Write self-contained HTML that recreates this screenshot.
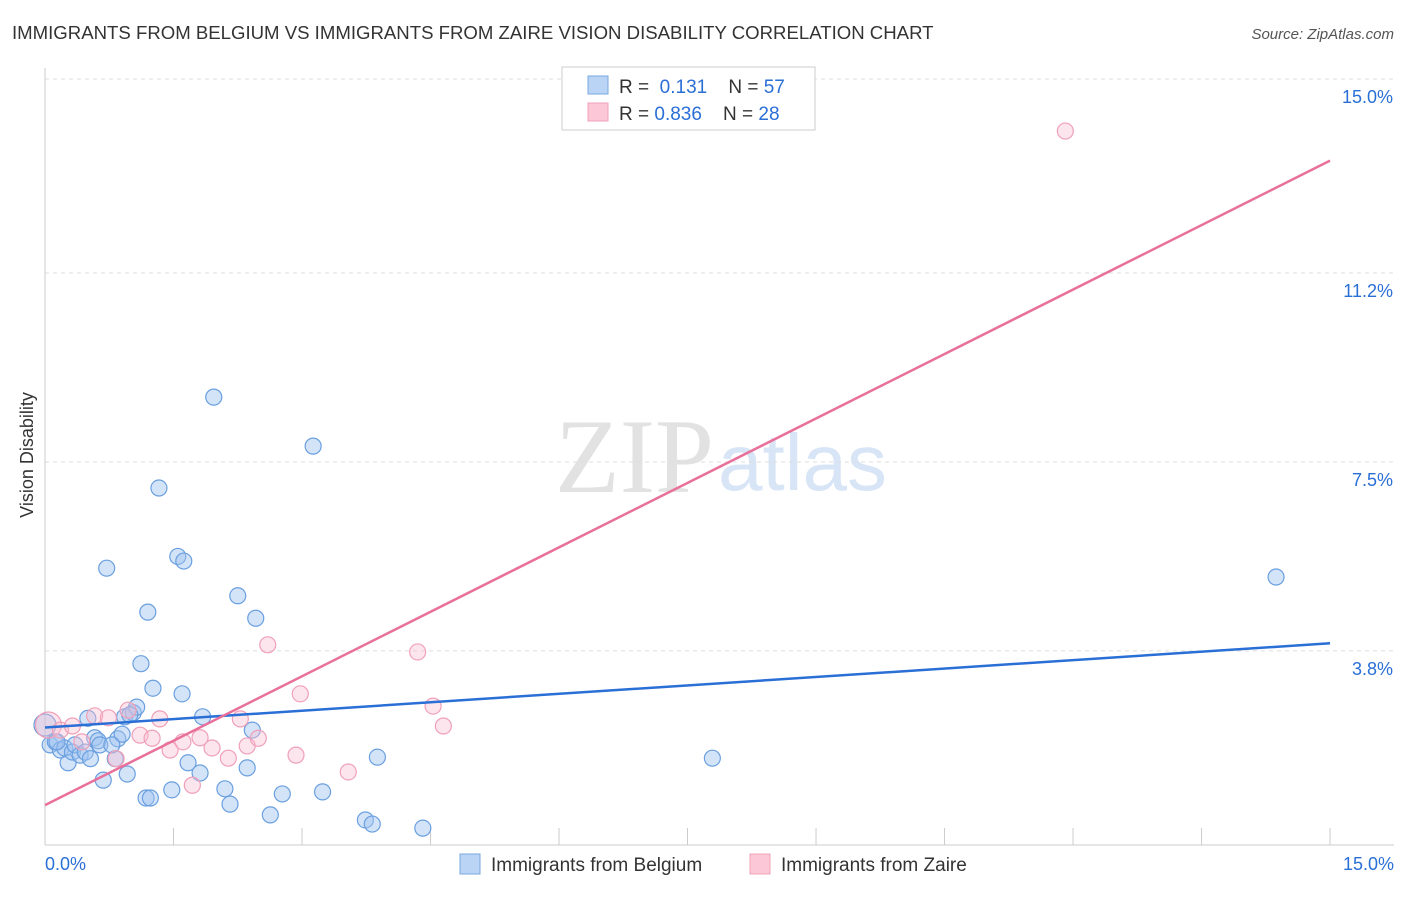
<!DOCTYPE html>
<html><head><meta charset="utf-8"><style>
body{margin:0;background:#fff;font-family:"Liberation Sans",sans-serif;}
svg text{font-family:"Liberation Sans",sans-serif;}
</style></head><body>
<svg id="chart" width="1406" height="892">
<text x="12" y="39" font-size="18.6" fill="#333">IMMIGRANTS FROM BELGIUM VS IMMIGRANTS FROM ZAIRE VISION DISABILITY CORRELATION CHART</text>
<text x="1394" y="39" font-size="15" fill="#555" font-style="italic" text-anchor="end">Source: ZipAtlas.com</text>
<text x="33" y="455" font-size="18" fill="#333" transform="rotate(-90 33 455)" text-anchor="middle">Vision Disability</text>
<text x="555" y="492" font-size="106" fill="#e2e2e2" style="font-family:'Liberation Serif',serif">ZIP</text>
<text x="718" y="490" font-size="80" fill="#d8e5f6">atlas</text>
<g id="grid"></g><g id="marks"></g>
<g>
<rect x="562" y="67" width="253" height="63" fill="#fff" stroke="#ccc"/>
<rect x="588" y="76" width="20" height="18" fill="#b9d4f5" stroke="#7aa7e0"/>
<rect x="588" y="103" width="20" height="18" fill="#fcc8d8" stroke="#f0a0b8"/>
<text x="619" y="93" font-size="19" fill="#333">R = <tspan fill="#2a6fd6">&#160;0.131</tspan>&#160;&#160;&#160; N = <tspan fill="#2a6fd6">57</tspan></text>
<text x="619" y="120" font-size="19" fill="#333">R = <tspan fill="#2a6fd6">0.836</tspan>&#160;&#160;&#160; N = <tspan fill="#2a6fd6">28</tspan></text>
</g>
<g>
<rect x="460" y="854" width="20" height="20" fill="#b9d4f5" stroke="#7aa7e0"/>
<text x="491" y="871" font-size="19" fill="#333">Immigrants from Belgium</text>
<rect x="750" y="854" width="20" height="20" fill="#fcc8d8" stroke="#f0a0b8"/>
<text x="781" y="871" font-size="19" fill="#333">Immigrants from Zaire</text>
</g>
<text x="45" y="870" font-size="18" fill="#2a6fd6">0.0%</text>
<text x="1394" y="870" font-size="18" fill="#2a6fd6" text-anchor="end">15.0%</text>
</svg>
<script>
const yTicks=[15.0,11.2,7.5,3.8];
const yTickLabels=["15.0%","11.2%","7.5%","3.8%"];
const belgiumX=[0.06,0.12,0.18,0.23,0.27,0.32,0.35,0.41,0.47,0.5,0.53,0.58,0.62,0.64,0.68,0.72,0.82,0.85,0.9,0.93,0.96,1.03,1.07,1.12,1.18,1.2,1.23,1.26,1.33,1.48,1.55,1.6,1.62,1.67,1.81,1.84,1.97,2.1,2.16,2.25,2.36,2.42,2.46,2.63,2.77,3.13,3.24,3.74,3.82,3.88,4.41,7.79,14.37,0.0,0.14,0.78,0.99];
const belgiumY=[1.96,2.02,1.86,1.9,1.61,1.82,1.96,1.76,1.82,2.48,1.69,2.1,2.04,1.96,1.27,5.42,1.69,2.08,2.17,2.51,1.39,2.59,2.7,3.55,0.92,4.56,0.92,3.07,6.99,1.08,5.65,2.96,5.56,1.61,1.41,2.51,8.77,1.1,0.8,4.88,1.51,2.25,4.44,0.59,1.0,7.81,1.04,0.49,0.41,1.72,0.33,1.7,5.248,2.35,2.02,1.96,2.55];
const zaireX=[0.04,0.18,0.32,0.43,0.58,0.74,0.83,0.97,1.11,1.25,1.34,1.46,1.61,1.72,1.81,1.95,2.14,2.28,2.36,2.49,2.6,2.93,2.98,3.54,4.35,4.53,4.65,11.91];
const zaireY=[2.35,2.25,2.33,2.02,2.53,2.49,1.69,2.64,2.15,2.09,2.47,1.86,2.02,1.17,2.1,1.9,1.7,2.47,1.94,2.09,3.92,1.76,2.96,1.43,3.78,2.72,2.33,13.98];
const belgiumLine=[2.30,3.95];
const zaireLine=[0.78,13.4];
const X=v=>45+v*85.67, Y=v=>845-v*51.07;
const NS="http://www.w3.org/2000/svg";
const grid=document.getElementById('grid'), marks=document.getElementById('marks');
function mk(p,tag,a){const e=document.createElementNS(NS,tag);for(const k in a)e.setAttribute(k,a[k]);p.appendChild(e);return e;}
yTicks.forEach((t,i)=>{
 const l=mk(grid,'line',{x1:45,x2:1394,y1:Y(t),y2:Y(t),stroke:'#ddd','stroke-dasharray':'4,4'});
 
 
 const tx=mk(grid,'text',{x:1393,y:Y(t)+24,'font-size':18,fill:'#2a6fd6','text-anchor':'end'});
 tx.textContent=yTickLabels[i];
 
 
});
const ax=mk(grid,'line',{x1:45,x2:45,y1:68,y2:845,stroke:'#ccc'});


const bx=mk(grid,'line',{x1:45,x2:1394,y1:845,y2:845,stroke:'#ccc'});


for(let i=0;i<=10;i++){const t=mk(grid,'line',{x1:X(i*1.5),x2:X(i*1.5),y1:828,y2:845,stroke:'#ccc'});
 
 }
belgiumX.forEach((v,i)=>{const c=mk(marks,'circle',{cx:X(v),cy:Y(belgiumY[i]),r:i==53?11:8,fill:'rgba(160,196,240,0.45)',stroke:'#6a9fe0','stroke-width':1.2});
 
 });
zaireX.forEach((v,i)=>{const c=mk(marks,'circle',{cx:X(v),cy:Y(zaireY[i]),r:i==0?13:8,fill:'rgba(250,190,210,0.4)',stroke:'#f0a0b8','stroke-width':1.2});
 
 });
const l1=mk(marks,'line',{x1:X(0),x2:X(15),y1:Y(belgiumLine[0]),y2:Y(belgiumLine[1]),stroke:'#2a6fd6','stroke-width':2.5});


const l2=mk(marks,'line',{x1:X(0),x2:X(15),y1:Y(zaireLine[0]),y2:Y(zaireLine[1]),stroke:'#e8709a','stroke-width':2.5});


</script>
</body></html>
